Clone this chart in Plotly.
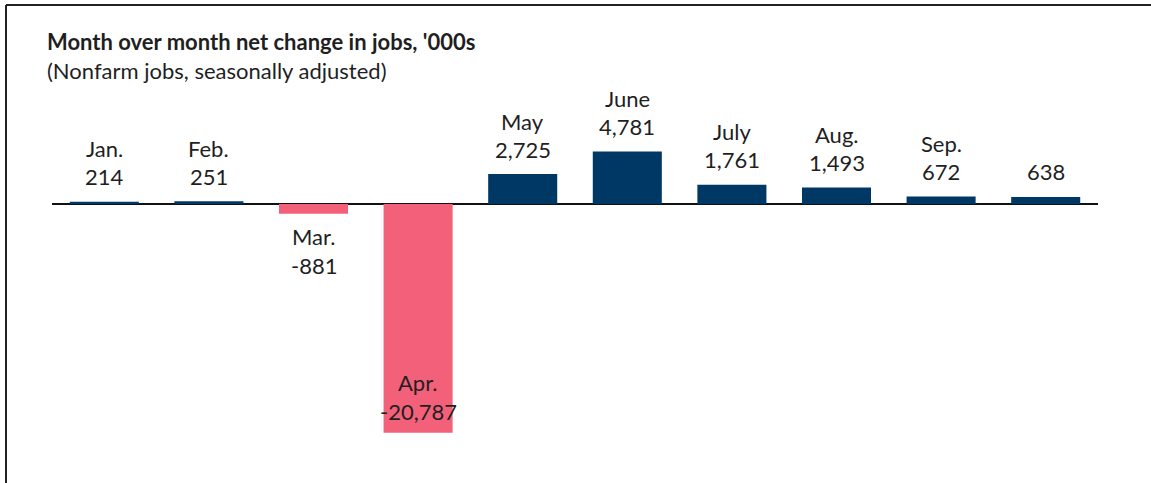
import plotly.graph_objects as go

# monthly net change in nonfarm jobs, thousands
months = ["Jan.", "Feb.", "Mar.", "Apr.", "May", "June", "July", "Aug.", "Sep.", "Oct."]
labels = ["Jan.", "Feb.", "Mar.", "Apr.", "May", "June", "July", "Aug.", "Sep.", ""]
values = [214, 251, -881, -20787, 2725, 4781, 1761, 1493, 672, 638]

NAVY = "#003865"
PINK = "#F2607A"
TEXT = "#1f1f1f"
FONT = "Lato"
FSIZE = 22

W, H = 1151, 483
ML, MR, MT, MB = 52, 53, 138, 26
Y_RANGE = [-23000, 6000]

colors = [NAVY if v >= 0 else PINK for v in values]

fig = go.Figure(go.Bar(x=months, y=values, marker_color=colors,
                       marker_line_width=0, width=0.66, hoverinfo="skip"))


def label(m, v, txt, shift):
    return dict(x=m, y=v, yref="y", text=txt, showarrow=False,
                yanchor="middle", yshift=shift,
                font=dict(size=FSIZE, color=TEXT, family=FONT))


annotations = []
for m, lab, v in zip(months, labels, values):
    num = f"{v:,}"
    if v >= 0:
        # above the bar
        if lab:
            annotations.append(label(m, v, lab, 53))
        annotations.append(label(m, v, num, 25))
    elif v > -10000:
        # below a small negative bar
        annotations.append(label(m, v, lab, -23))
        annotations.append(label(m, v, num, -52))
    else:
        # inside the end of the big negative bar
        annotations.append(label(m, v, lab, 50))
        annotations.append(label(m, v, num, 21))

pw, ph = W - ML - MR, H - MT - MB


def px_x(p):
    return (p - ML) / pw


def px_y(p):
    return (H - MB - p) / ph


annotations += [
    dict(xref="paper", yref="paper", x=px_x(45), y=px_y(41), xanchor="left", yanchor="middle",
         text="<b>Month over month net change in jobs, '000s</b>", showarrow=False,
         font=dict(size=FSIZE, color=TEXT, family=FONT)),
    dict(xref="paper", yref="paper", x=px_x(45), y=px_y(70), xanchor="left", yanchor="middle",
         text="(Nonfarm jobs, seasonally adjusted)", showarrow=False,
         font=dict(size=FSIZE, color=TEXT, family=FONT)),
]

shapes = [
    dict(type="line", xref="paper", yref="paper", x0=px_x(6), x1=px_x(W + 2),
         y0=px_y(5), y1=px_y(5), line=dict(color="#222", width=2)),
    dict(type="line", xref="paper", yref="paper", x0=px_x(6), x1=px_x(6),
         y0=px_y(5), y1=px_y(H + 2), line=dict(color="#222", width=2)),
]

fig.update_layout(
    width=W, height=H,
    margin=dict(l=ML, r=MR, t=MT, b=MB),
    paper_bgcolor="white", plot_bgcolor="white",
    showlegend=False,
    annotations=annotations,
    shapes=shapes,
)
fig.update_xaxes(visible=False, range=[-0.5, 9.5])
fig.update_yaxes(range=Y_RANGE, showgrid=False, showticklabels=False, ticks="",
                 zeroline=True, zerolinecolor="#111", zerolinewidth=2)

# drop the browser's default 8px body margin so the figure sits at (0, 0)
fig.write_html("out.html", config={"displayModeBar": False},
               post_script="document.body.style.margin = '0';")
